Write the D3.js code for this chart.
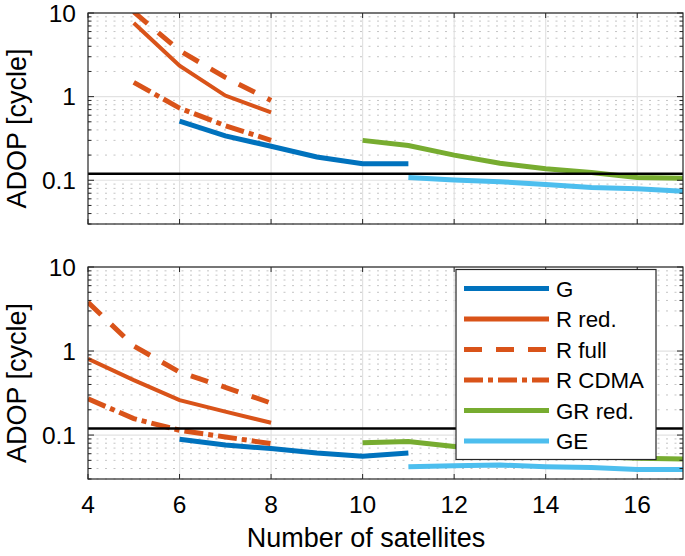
<!DOCTYPE html>
<html>
<head>
<meta charset="utf-8">
<script src="https://cdn.jsdelivr.net/npm/d3@7"></script>
<style>
  body { margin: 0; background: #fff; }
  text { font-family: "Liberation Sans", Arial, sans-serif; fill: #000; }
</style>
</head>
<body>
<svg id="chart" width="685" height="556"></svg>
<script>
// x values (number of satellites)
const xR = [5, 6, 7, 8];
const xRb = [4, 5, 6, 7, 8];
const xG = [6, 7, 8, 9, 10, 11];
const xGR = [10, 11, 12, 13, 14, 15, 16, 17];
const xGE = [11, 12, 13, 14, 15, 16, 17];

// top panel
const topG = [0.51, 0.34, 0.255, 0.19, 0.158, 0.158];
const topRred = [7.6, 2.35, 1.03, 0.65];
const topRfull = [10.3, 3.55, 1.7, 0.9];
const topRcdma = [1.48, 0.73, 0.45, 0.30];
const topGRred = [0.30, 0.26, 0.20, 0.16, 0.137, 0.124, 0.108, 0.106];
const topGE = [0.108, 0.101, 0.096, 0.089, 0.082, 0.079, 0.074];

// bottom panel
const botG = [0.089, 0.076, 0.069, 0.061, 0.056, 0.061];
const botRred = [0.81, 0.45, 0.26, 0.19, 0.14];
const botRfull = [3.8, 1.15, 0.56, 0.37, 0.24];
const botRcdma = [0.27, 0.157, 0.114, 0.095, 0.079];
const botGRred = [0.081, 0.084, 0.073, 0.065, 0.06, 0.056, 0.053, 0.052];
const botGE = [0.042, 0.043, 0.044, 0.042, 0.041, 0.039, 0.039];

const threshold = 0.12;
const xTicks = [4, 6, 8, 10, 12, 14, 16];
const yTicks = [0.1, 1, 10];
const yTickLabels = ['0.1', '1', '10'];

const seriesNames = ['G', 'R red.', 'R full', 'R CDMA', 'GR red.', 'GE'];
const colors = ['#0072BD', '#D95319', '#D95319', '#D95319', '#77AC30', '#4DBEEE'];
const dashes = [null, null, '18,14', '19,5,5,5', null, null];
const widths = [5, 4, 5, 5, 5, 5];

const svg = d3.select('#chart');
const left = 88, right = 683;

const x = d3.scaleLinear().domain([4, 17]).range([left, right]);

function minorValues() {
  const v = [];
  for (let e = -2; e <= 0; e++) {
    for (let m = 2; m <= 9; m++) {
      const val = m * Math.pow(10, e);
      if (val >= 0.03 && val <= 10) v.push(val);
    }
  }
  return v;
}

function panel(top, bottom, data, opts) {
  const y = d3.scaleLog().domain([0.03, 10]).range([bottom, top]);
  const g = svg.append('g');
  const clipId = 'clip' + top;
  svg.append('clipPath').attr('id', clipId)
    .append('rect').attr('x', left).attr('y', top)
    .attr('width', right - left).attr('height', bottom - top);

  // minor grid (dotted)
  g.selectAll('.minor').data(minorValues()).enter().append('line')
    .attr('x1', left).attr('x2', right)
    .attr('y1', d => y(d)).attr('y2', d => y(d))
    .attr('stroke', '#c4c4c4').attr('stroke-width', 1)
    .attr('stroke-dasharray', '2,6.5');
  // major grid
  g.selectAll('.hmaj').data(yTicks).enter().append('line')
    .attr('x1', left).attr('x2', right)
    .attr('y1', d => y(d)).attr('y2', d => y(d))
    .attr('stroke', '#e2e2e2').attr('stroke-width', 1.2);
  g.selectAll('.vmaj').data(xTicks.slice(1)).enter().append('line')
    .attr('x1', d => x(d)).attr('x2', d => x(d))
    .attr('y1', top).attr('y2', bottom)
    .attr('stroke', '#e2e2e2').attr('stroke-width', 1.2);

  // lines
  const line = d3.line().x(d => x(d[0])).y(d => y(d[1]));
  const lg = g.append('g').attr('clip-path', `url(#${clipId})`);
  data.forEach((s, i) => {
    lg.append('path')
      .datum(s.xs.map((xv, j) => [xv, s.ys[j]]))
      .attr('d', line)
      .attr('fill', 'none')
      .attr('stroke', colors[i])
      .attr('stroke-width', widths[i])
      .attr('stroke-dasharray', dashes[i]);
  });
  lg.append('line')
    .attr('x1', left).attr('x2', right)
    .attr('y1', y(threshold)).attr('y2', y(threshold))
    .attr('stroke', '#000').attr('stroke-width', 2.5);

  // ticks (inside)
  const tk = g.append('g').attr('stroke', '#262626').attr('stroke-width', 1);
  xTicks.forEach(t => {
    tk.append('line').attr('x1', x(t)).attr('x2', x(t)).attr('y1', bottom).attr('y2', bottom - 5);
    tk.append('line').attr('x1', x(t)).attr('x2', x(t)).attr('y1', top).attr('y2', top + 5);
  });
  yTicks.forEach(t => {
    tk.append('line').attr('x1', left).attr('x2', left + 6).attr('y1', y(t)).attr('y2', y(t));
    tk.append('line').attr('x1', right).attr('x2', right - 6).attr('y1', y(t)).attr('y2', y(t));
  });
  minorValues().forEach(t => {
    tk.append('line').attr('x1', left).attr('x2', left + 3.5).attr('y1', y(t)).attr('y2', y(t));
    tk.append('line').attr('x1', right).attr('x2', right - 3.5).attr('y1', y(t)).attr('y2', y(t));
  });

  // frame
  g.append('rect').attr('x', left).attr('y', top)
    .attr('width', right - left).attr('height', bottom - top)
    .attr('fill', 'none').attr('stroke', '#262626').attr('stroke-width', 1.2);

  // y tick labels
  yTicks.forEach((t, i) => {
    g.append('text').attr('x', 76).attr('y', y(t)).attr('dy', '0.36em')
      .attr('text-anchor', 'end').attr('font-size', 24.5).text(yTickLabels[i]);
  });
  if (opts.xLabels) {
    xTicks.forEach(t => {
      g.append('text').attr('x', x(t)).attr('y', bottom + 34)
        .attr('text-anchor', 'middle').attr('font-size', 24.5).text(t);
    });
  }
  // y label
  const cy = (top + bottom) / 2 + 10;
  g.append('text').attr('transform', `translate(26,${cy}) rotate(-90)`)
    .attr('text-anchor', 'middle').attr('font-size', 27).text('ADOP [cycle]');
  return y;
}

panel(13, 224, [
  { xs: xG, ys: topG }, { xs: xR, ys: topRred }, { xs: xR, ys: topRfull },
  { xs: xR, ys: topRcdma }, { xs: xGR, ys: topGRred }, { xs: xGE, ys: topGE }
], { xLabels: false });

panel(267, 479, [
  { xs: xG, ys: botG }, { xs: xRb, ys: botRred }, { xs: xRb, ys: botRfull },
  { xs: xRb, ys: botRcdma }, { xs: xGR, ys: botGRred }, { xs: xGE, ys: botGE }
], { xLabels: true });

// x label
svg.append('text').attr('x', 366).attr('y', 547).attr('text-anchor', 'middle')
  .attr('font-size', 27).text('Number of satellites');

// legend
const lgX = 456, lgY = 269.5, lgW = 200, lgH = 190;
const leg = svg.append('g');
leg.append('rect').attr('x', lgX).attr('y', lgY).attr('width', lgW).attr('height', lgH)
  .attr('fill', '#fff').attr('stroke', '#262626').attr('stroke-width', 1.2);
const rowY = d3.scaleLinear().domain([0, seriesNames.length - 1]).range([288.5, 441]);
seriesNames.forEach((name, i) => {
  const yy = rowY(i);
  leg.append('line').attr('x1', 464).attr('x2', 549).attr('y1', yy).attr('y2', yy)
    .attr('stroke', colors[i]).attr('stroke-width', 5)
    .attr('stroke-dasharray', dashes[i]);
  leg.append('text').attr('x', 556).attr('y', yy).attr('dy', '0.36em')
    .attr('font-size', 22.3).text(name);
});
</script>
</body>
</html>
